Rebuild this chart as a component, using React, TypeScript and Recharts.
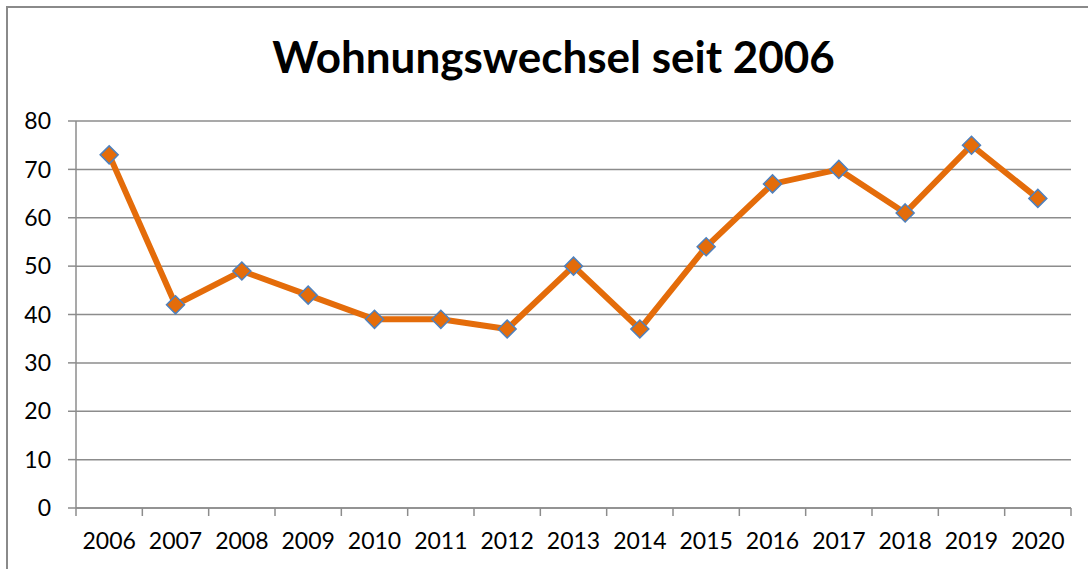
import React from 'react';
import { LineChart, Line, XAxis, YAxis, CartesianGrid } from 'recharts';

// Moves per year
const years: string[] = [
  '2006', '2007', '2008', '2009', '2010', '2011', '2012', '2013',
  '2014', '2015', '2016', '2017', '2018', '2019', '2020',
];
const moves: number[] = [73, 42, 49, 44, 39, 39, 37, 50, 37, 54, 67, 70, 61, 75, 64];
const yTicks: number[] = [0, 10, 20, 30, 40, 50, 60, 70, 80];

const data = years.map((year, i) => ({ year, moves: moves[i] }));

const FONT = 'Lato, "Open Sans", sans-serif';
const GRID = '#8c8c8c';
const ORANGE = '#E46C0A';
const BLUE = '#4F81BD';

const WIDTH = 1088;
const HEIGHT = 569;
const MARGIN = { top: 121, right: 17, bottom: 11, left: 0 };
const Y_AXIS_W = 76;
const X_AXIS_H = 50;
const TICK_SIZE = 8;
const X_TICK_MARGIN = 17;

const plotWidth = WIDTH - MARGIN.left - MARGIN.right - Y_AXIS_W;
const bandWidth = plotWidth / years.length;

// diamond marker
const Diamond = (props: any) => {
  const { cx, cy } = props;
  if (cx == null || cy == null) return null;
  const r = 9;
  return (
    <polygon
      points={`${cx},${cy - r} ${cx + r},${cy} ${cx},${cy + r} ${cx - r},${cy}`}
      fill={ORANGE}
      stroke={BLUE}
      strokeWidth={1.5}
    />
  );
};

// category label with tick marks on the band boundaries
const XTick = (props: any) => {
  const { x, y, payload, index } = props;
  const axisY = y - TICK_SIZE - X_TICK_MARGIN;
  const left = x - bandWidth / 2;
  const right = x + bandWidth / 2;
  return (
    <g>
      <line x1={left} x2={left} y1={axisY} y2={axisY + TICK_SIZE} stroke={GRID} strokeWidth={1.5} />
      {index === years.length - 1 && (
        <line x1={right} x2={right} y1={axisY} y2={axisY + TICK_SIZE} stroke={GRID} strokeWidth={1.5} />
      )}
      <text x={x} y={y} dy="0.71em" textAnchor="middle" fill="#000" fontSize={23} fontFamily={FONT}>
        {payload.value}
      </text>
    </g>
  );
};

export default function App() {
  return (
    <div style={{ position: 'absolute', left: 0, top: 0, width: WIDTH, height: HEIGHT, overflow: 'hidden', background: '#fff' }}>
      <div
        style={{
          position: 'absolute',
          left: 6,
          top: 6,
          width: WIDTH + 20,
          height: HEIGHT + 20,
          border: '2px solid #8a8a8a',
          boxSizing: 'border-box',
        }}
      />
      <div
        style={{
          position: 'absolute',
          left: 0,
          top: 30,
          width: 1107,
          textAlign: 'center',
          fontFamily: FONT,
          fontWeight: 'bold',
          fontSize: 44,
          lineHeight: '52px',
          color: '#000',
        }}
      >
        Wohnungswechsel seit 2006
      </div>
      <div style={{ position: 'absolute', left: 0, top: 0 }}>
        <LineChart width={WIDTH} height={HEIGHT} data={data} margin={MARGIN}>
          <CartesianGrid vertical={false} stroke={GRID} strokeWidth={1.5} />
          <XAxis
            dataKey="year"
            scale="band"
            height={X_AXIS_H}
            axisLine={{ stroke: GRID, strokeWidth: 1.5 }}
            tickLine={false}
            tickSize={TICK_SIZE}
            tickMargin={X_TICK_MARGIN}
            interval={0}
            tick={<XTick />}
          />
          <YAxis
            width={Y_AXIS_W}
            domain={[0, 80]}
            ticks={yTicks}
            interval={0}
            axisLine={{ stroke: GRID, strokeWidth: 1.5 }}
            tickLine={{ stroke: GRID, strokeWidth: 1.5 }}
            tickSize={TICK_SIZE}
            tickMargin={17}
            tick={{ fill: '#000', fontSize: 23, fontFamily: FONT }}
          />
          <Line
            type="linear"
            dataKey="moves"
            stroke={ORANGE}
            strokeWidth={6}
            dot={<Diamond />}
            activeDot={false}
            isAnimationActive={false}
          />
        </LineChart>
      </div>
    </div>
  );
}
